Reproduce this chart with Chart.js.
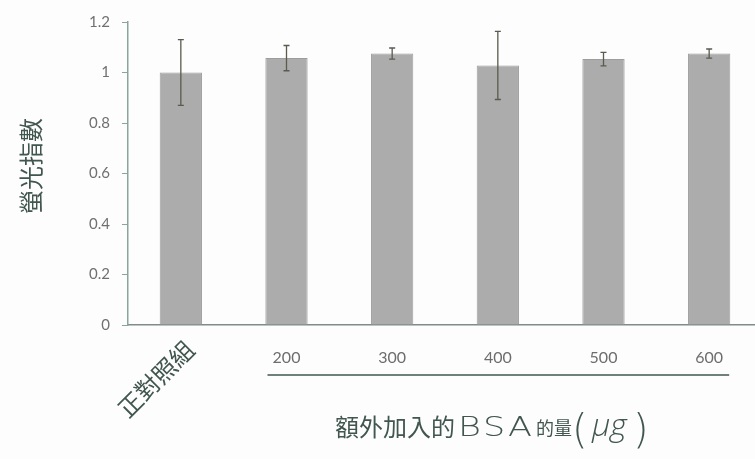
<!DOCTYPE html>
<html>
<head>
<meta charset="utf-8">
<script src="https://cdn.jsdelivr.net/npm/chart.js@4/dist/chart.umd.min.js"></script>
<style>
  html, body { margin: 0; padding: 0; background: #fdfdfd; overflow: hidden; }
  #wrap { width: 762px; height: 459px; }
</style>
</head>
<body>
<div id="wrap"><canvas id="chart" width="762" height="459"></canvas></div>
<script>
const categories = ['正對照組', '200', '300', '400', '500', '600'];
const values = [1.0, 1.057, 1.075, 1.028, 1.053, 1.075];
const errors = [0.13, 0.05, 0.022, 0.135, 0.027, 0.018];
const yTitle = '螢光指數';

const textColor = '#40564e';

const errorBars = {
  id: 'errorBars',
  afterDatasetsDraw(chart) {
    const ctx = chart.ctx;
    const y = chart.scales.y;
    const meta = chart.getDatasetMeta(0);
    ctx.save();
    ctx.strokeStyle = '#5a5a50';
    ctx.lineWidth = 1.3;
    meta.data.forEach((bar, i) => {
      const top = y.getPixelForValue(values[i] + errors[i]);
      const bot = y.getPixelForValue(values[i] - errors[i]);
      ctx.beginPath();
      ctx.moveTo(bar.x, top); ctx.lineTo(bar.x, bot);
      ctx.moveTo(bar.x - 3, top); ctx.lineTo(bar.x + 3, top);
      ctx.moveTo(bar.x - 3, bot); ctx.lineTo(bar.x + 3, bot);
      ctx.stroke();
    });
    ctx.restore();
  }
};

const labels = {
  id: 'labels',
  afterDraw(chart) {
    const ctx = chart.ctx;
    const x = chart.scales.x;
    const area = chart.chartArea;
    ctx.save();
    // numeric category labels
    ctx.fillStyle = '#6d6d6d';
    ctx.font = '16px Lato, "Open Sans", sans-serif';
    ctx.textAlign = 'center';
    ctx.textBaseline = 'middle';
    for (let i = 1; i < categories.length; i++) {
      ctx.fillText(categories[i], x.getPixelForValue(i), area.bottom + 33);
    }
    // rotated control label
    ctx.save();
    ctx.translate(x.getPixelForValue(0) + 9, area.bottom + 20);
    ctx.rotate(-Math.PI / 4);
    ctx.fillStyle = textColor;
    ctx.font = '24px "Noto Sans CJK TC", sans-serif';
    ctx.textAlign = 'right';
    ctx.textBaseline = 'middle';
    ctx.fillText(categories[0], 0, 0);
    ctx.restore();
    // underline for dose group
    ctx.strokeStyle = textColor;
    ctx.lineWidth = 1.6;
    ctx.beginPath();
    ctx.moveTo(x.getPixelForValue(1) - 19, area.bottom + 50);
    ctx.lineTo(x.getPixelForValue(5) + 20, area.bottom + 50);
    ctx.stroke();
    // x title
    ctx.fillStyle = textColor;
    ctx.textAlign = 'left';
    ctx.textBaseline = 'alphabetic';
    const base = area.bottom + 111;
    let px = 335;
    ctx.font = '24px "Noto Sans CJK TC", sans-serif';
    ctx.fillText('額外加入的', px, base);
    px = 458;
    ctx.font = '300 27px "DejaVu Sans", sans-serif';
    ['B', 'S', 'A'].forEach(c => {
      ctx.save();
      ctx.translate(px, base);
      ctx.scale(1.3, 1);
      ctx.fillText(c, 0, 0);
      ctx.restore();
      px += 25;
    });
    px = 536;
    ctx.font = '18px "Noto Sans CJK TC", sans-serif';
    ctx.fillText('的量', px, base - 1);
    px = 572;
    ctx.font = '300 40px "DejaVu Sans", sans-serif';
    ctx.fillText('(', px, base + 7);
    px = 592;
    ctx.font = 'italic 300 32px "Open Sans", sans-serif';
    ctx.fillText('μg', px, base);
    px = 633;
    ctx.font = '300 40px "DejaVu Sans", sans-serif';
    ctx.fillText(')', px, base + 7);
    // y title
    ctx.save();
    ctx.translate(31, 166);
    ctx.rotate(-Math.PI / 2);
    ctx.font = '24px "Noto Sans CJK TC", sans-serif';
    ctx.textAlign = 'center';
    ctx.textBaseline = 'middle';
    ctx.fillText(yTitle, 0, 0);
    ctx.restore();
    ctx.restore();
  }
};

new Chart(document.getElementById('chart'), {
  type: 'bar',
  data: {
    labels: categories,
    datasets: [{
      data: values,
      backgroundColor: '#acacac',
      borderColor: '#9d9d9d',
      borderWidth: 1,
      barPercentage: 0.4,
      categoryPercentage: 1.0
    }]
  },
  options: {
    responsive: false,
    animation: false,
    layout: { padding: { top: 22, bottom: 126, left: 0, right: 0 } },
    plugins: {
      legend: { display: false },
      tooltip: { enabled: false }
    },
    scales: {
      x: {
        grid: { display: false },
        ticks: { display: false },
        border: { display: true, color: '#7f8c88', width: 1.5 }
      },
      y: {
        min: 0,
        max: 1.2,
        afterFit(scale) { scale.width = 128; },
        ticks: {
          stepSize: 0.2,
          color: '#707070',
          padding: 12,
          font: { size: 15, family: 'Lato, "Open Sans", sans-serif' },
          callback: v => String(Math.round(v * 10) / 10)
        },
        grid: { display: true, drawOnChartArea: false, drawTicks: true, tickLength: 6, color: '#8aa59c' },
        border: { display: true, color: '#8aa59c', width: 1.5 }
      }
    }
  },
  plugins: [errorBars, labels]
});
</script>
</body>
</html>
